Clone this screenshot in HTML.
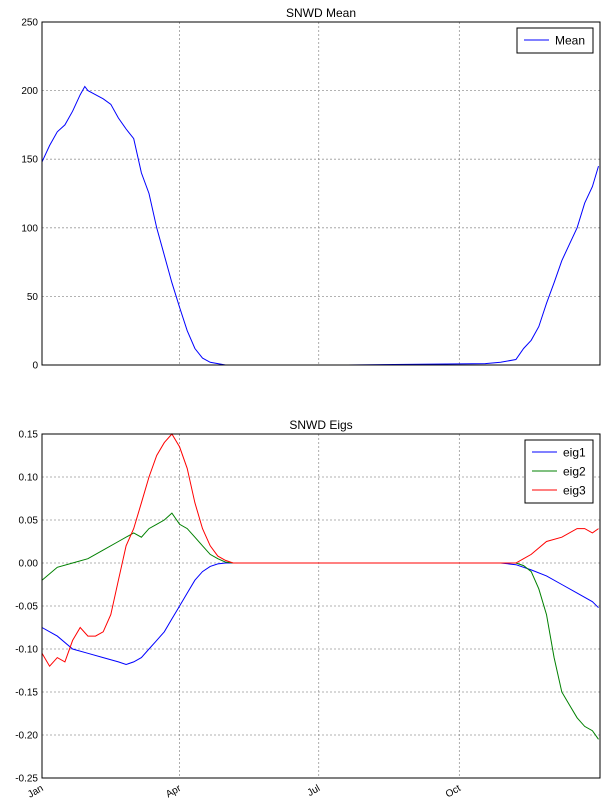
<!DOCTYPE html>
<html><head><meta charset="utf-8">
<style>
body{margin:0;background:#fff;font-family:"Liberation Sans",sans-serif;}
svg text{font-family:"Liberation Sans",sans-serif;}
</style></head>
<body>
<svg id="chart" width="607" height="806" xmlns="http://www.w3.org/2000/svg"></svg>
<script>
const meanDays=[0,5,10,15,20,25,28,30,35,40,45,50,55,60,65,70,75,80,85,90,95,100,105,110,115,120,200,290,300,310,315,320,325,330,335,340,345,350,355,360,364];
const meanVals=[148,160,170,175,185,197,203,200,197,194,190,180,172,165,140,125,100,80,60,42,25,12,5,2,1,0,0,1,2,4,12,18,28,45,60,76,88,100,118,130,145];
const eig1Days=[0,10,20,30,40,50,55,60,65,70,75,80,85,90,95,100,105,110,115,120,300,310,320,330,340,350,360,364];
const eig1Vals=[-0.075,-0.085,-0.10,-0.105,-0.11,-0.115,-0.118,-0.115,-0.11,-0.10,-0.09,-0.08,-0.065,-0.05,-0.035,-0.02,-0.01,-0.004,-0.001,0,0,-0.002,-0.008,-0.015,-0.025,-0.035,-0.045,-0.052];
const eig2Days=[0,10,20,30,40,50,60,65,70,75,80,85,90,95,100,105,110,115,120,125,310,315,320,325,330,335,340,345,350,355,360,364];
const eig2Vals=[-0.02,-0.005,0.0,0.005,0.015,0.025,0.035,0.03,0.04,0.045,0.05,0.058,0.045,0.04,0.03,0.02,0.01,0.005,0.001,0,0,-0.003,-0.01,-0.03,-0.06,-0.11,-0.15,-0.165,-0.18,-0.19,-0.195,-0.205];
const eig3Days=[0,5,10,15,20,25,30,35,40,45,50,55,60,65,70,75,80,85,90,95,100,105,110,115,120,125,310,315,320,330,340,350,355,360,364];
const eig3Vals=[-0.105,-0.12,-0.11,-0.115,-0.09,-0.075,-0.085,-0.085,-0.08,-0.06,-0.02,0.02,0.04,0.07,0.1,0.125,0.14,0.15,0.135,0.11,0.07,0.04,0.02,0.008,0.003,0,0,0.005,0.01,0.025,0.03,0.04,0.04,0.035,0.04];
const topTicks=[0,50,100,150,200,250];
const botTicks=[-0.25,-0.20,-0.15,-0.10,-0.05,0.00,0.05,0.10,0.15];
const monthDays=[0,90,181,273];
const monthLabels=["Jan","Apr","Jul","Oct"];

const NS="http://www.w3.org/2000/svg";
const svg=document.getElementById('chart');
const L=42,R=600;
const xs=d=>L+d/365*(R-L);
function mk(tag,attrs,parent){const e=document.createElementNS(NS,tag);for(const k in attrs)e.setAttribute(k,attrs[k]);(parent||svg).appendChild(e);return e;}

function panel(top,bot,ymin,ymax,ticks,fmt,title,name,series,legend,legW){
  const ys=v=>bot-(v-ymin)/(ymax-ymin)*(bot-top);
  const g=mk('g',{});
  
  
  ticks.forEach(t=>{
    const y=ys(t);
    const gl=mk('line',{x1:L,x2:R,y1:y,y2:y,stroke:'#999','stroke-dasharray':'2,2','stroke-width':0.8},g);
    
    const tl=mk('text',{x:L-4,y:y+3.5,'text-anchor':'end','font-size':10},g);
    tl.textContent=fmt(t);
    
  });
  monthDays.forEach(d=>{
    if(d===0)return;
    const gl=mk('line',{x1:xs(d),x2:xs(d),y1:top,y2:bot,stroke:'#999','stroke-dasharray':'2,2','stroke-width':0.8},g);
    
  });
  series.forEach(s=>{
    const pts=s.days.map((d,i)=>xs(d).toFixed(1)+','+ys(s.vals[i]).toFixed(1)).join(' ');
    const pl=mk('polyline',{points:pts,fill:'none',stroke:s.color,'stroke-width':1},g);
    
  });
  const fr=mk('rect',{x:L,y:top,width:R-L,height:bot-top,fill:'none',stroke:'#000','stroke-width':1},g);
  
  const tt=mk('text',{x:(L+R)/2,y:top-5,'text-anchor':'middle','font-size':12},g);
  tt.textContent=title;
  const lg=mk('g',{},g);
  
  const lh=series.length*19+6, lx=R-7-legW, ly=top+6;
  mk('rect',{x:lx,y:ly,width:legW,height:lh,fill:'#fff',stroke:'#000','stroke-width':1},lg);
  series.forEach((s,i)=>{
    const y=ly+12+i*19;
    const e=mk('g',{},lg);
    
    mk('line',{x1:lx+7,x2:lx+32,y1:y,y2:y,stroke:s.color,'stroke-width':1},e);
    const t=mk('text',{x:lx+38,y:y+4.5,'font-size':12},e);t.textContent=s.name;
  });
}
panel(22,365,0,250,topTicks,t=>String(t),'SNWD Mean','mean-panel',
  [{name:'Mean',days:meanDays,vals:meanVals,color:'#0000ff'}],false,76);
panel(434,778,-0.25,0.15,botTicks,t=>t.toFixed(2),'SNWD Eigs','eigs-panel',
  [{name:'eig1',days:eig1Days,vals:eig1Vals,color:'#0000ff'},
   {name:'eig2',days:eig2Days,vals:eig2Vals,color:'#008000'},
   {name:'eig3',days:eig3Days,vals:eig3Vals,color:'#ff0000'}],true,68);
monthDays.forEach((d,i)=>{
  const x=xs(d);
  const t=mk('text',{x:x+2,y:790,'text-anchor':'end','font-size':10,transform:`rotate(-30 ${x+2} 790)`});
  t.textContent=monthLabels[i];
  
});
</script>
</body></html>
